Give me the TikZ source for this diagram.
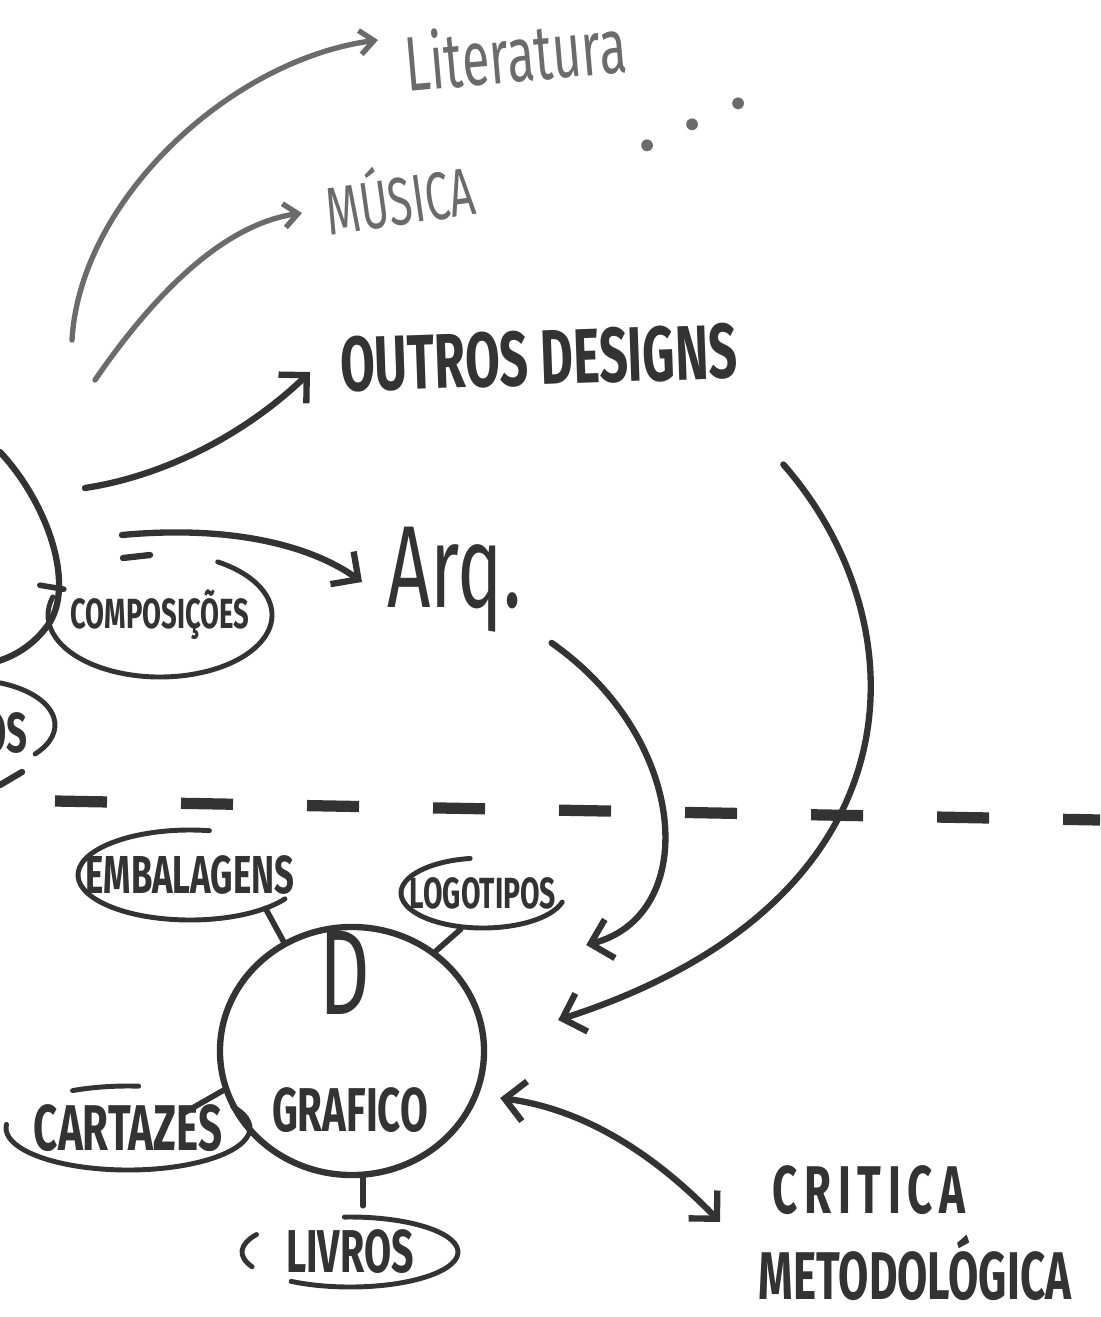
\documentclass[tikz,border=0pt]{standalone}
\usepackage{fontspec}
\setmainfont{Fira Sans}
\newfontfamily\hand[FakeStretch=0.65]{Fira Sans}
\usetikzlibrary{arrows.meta,shapes.geometric}

\definecolor{ink}{gray}{0.2}
\definecolor{pencil}{gray}{0.42}

\newcommand\hf[1]{\fontsize{#1}{#1}\selectfont}
% open hand drawn loop round a label: node, x radius, y radius, from, to
\newcommand\handloop[5]{%
  \draw[loopline] ([shift={(#4:#2 and #3)}]#1.center) arc[start angle=#4, end angle=#5, x radius=#2, y radius=#3];}

\tikzset{
  marker/.style={ink, line width=4.5pt, line cap=round, line join=round},
  pen/.style={pencil, line width=3.8pt, line cap=round, line join=round},
  loopline/.style={ink, line width=3.5pt, line cap=round},
  tick/.style={ink, line width=4pt, line cap=round},
  bigbarb/.style={-{Straight Barb[length=5mm,width=10mm]}},
  smallbarb/.style={-{Straight Barb[length=3.5mm,width=6mm]}},
  word/.style={ink, inner sep=0pt, font=\hand},
  tag/.style 2 args={word, ellipse, minimum width=#1, minimum height=#2},
}

\begin{document}
\begin{tikzpicture}[x=0.025cm, y=0.025cm]
    \useasboundingbox (0,0) rectangle (1100,-1317);
    \clip (0,0) rectangle (1100,-1317);

    %big circle, cut by the left edge
    \draw[marker] (0,-452) .. controls (45,-500) and (75,-580) .. (50,-622)
        .. controls (38,-640) and (20,-655) .. (-5,-662);
    \coordinate (litfoot) at (72,-340);
    \coordinate (musfoot) at (95,-380);
    \coordinate (desfoot) at (85,-488);
    \coordinate (arqfoot) at (122,-535);

    %targets
    \node[word, pencil, font=\hand\hf{55}, anchor=west, rotate=5] (lit) at (405,-62) {Literatura};
    \node[pencil, font=\hf{60}, rotate=25] (more) at (693,-125) {. . .};
    \node[word, pencil, font=\hand\hf{48}, anchor=west, rotate=8] (mus) at (325,-205) {MÚSICA};
    \node[word, font=\hand\bfseries\hf{55}, anchor=west, rotate=2] (outros) at (340,-365) {OUTROS DESIGNS};
    \node[word, font=\hand\hf{83}, anchor=west] (arq) at (387,-580) {Arq.};

    \draw[pen, smallbarb] (litfoot) .. controls (80,-200) and (230,-60) .. ([shift={(-27,22)}]lit.west);
    \draw[pen, smallbarb] (musfoot) .. controls (150,-300) and (220,-225) .. ([shift={(-23,-8)}]mus.west);
    \draw[marker, bigbarb] (desfoot) .. controls (170,-475) and (250,-430) .. ([shift={(-30,-7)}]outros.west);
    \draw[marker, bigbarb] (arqfoot) .. controls (230,-525) and (310,-545) .. ([shift={(-25,-2)}]arq.west);
    \draw[marker] (123,-558) -- (150,-555);

    %labels round the big circle
    \node[tag={5.6cm}{3.1cm}, font=\hand\bfseries\hf{30}] (comp) at (160,-615) {COMPOSIÇÕES};
    \handloop{comp}{112}{62}{59}{-197}
    \draw[tick] ([shift={(-9,0)}]comp.165) -- ++(24,-4);
    \node[tag={4.25cm}{2.25cm}] (os) at (-30,-725) {};
    \handloop{os}{85}{45}{70}{-40}
    \node[word, font=\hand\bfseries\hf{40}, anchor=east] (oslabel) at (28,-733) {OS};
    \draw[marker] (0,-785) -- (22,-772);

    %line between the two levels
    \draw[ink, line width=8pt, dash pattern=on 1.3cm off 1.85cm] (55,-801) -- (1100,-820);

    %graphic design
    \node[ellipse, draw=ink, line width=4.5pt, minimum width=6.6cm, minimum height=6.2cm] (dg) at (352,-1051) {};
    \node[word, font=\hand\hf{86}] (dletter) at (345,-973) {D};
    \node[word, font=\hand\bfseries\hf{44}] (graf) at (350,-1110) {GRAFICO};

    \node[tag={5.6cm}{2.25cm}, font=\hand\bfseries\hf{38}] (emb) at (190,-875) {EMBALAGENS};
    \handloop{emb}{112}{45}{80}{328}
    \node[tag={4.1cm}{1.75cm}, font=\hand\bfseries\hf{31}] (logo) at (483,-893) {LOGOTIPOS};
    \handloop{logo}{82}{35}{99}{345}
    \node[tag={6.1cm}{2.1cm}, font=\hand\bfseries\hf{46}] (cart) at (128,-1128) {CARTAZES};
    \handloop{cart}{122}{42}{31}{-185}
    \handloop{cart}{122}{42}{117}{85}
    \node[tag={5.4cm}{1.75cm}, font=\hand\bfseries\hf{43}] (livros) at (350,-1252) {LIVROS};
    \handloop{livros}{108}{35}{93}{-123}
    \handloop{livros}{108}{35}{150}{205}

    \draw[tick] (dg.122) -- ++(-18,33);
    \draw[tick] (dg.50) -- ++(25,22);
    \draw[tick] (dg.197) -- ++(-42,-24);
    \draw[tick] (dg.-85) -- ++(0,-28);

    %arrows into graphic design
    \draw[marker, bigbarb] ([shift={(30,-10)}]arq.south east) .. controls (690,-740) and (700,-915) .. ([shift={(99,106)}]dg.east);
    \draw[marker, bigbarb] ([shift={(45,-85)}]outros.south east) .. controls (920,-620) and (930,-900) .. ([shift={(71,31)}]dg.east);

    %critique
    \node[word, font=\hand\bfseries\hf{48}\addfontfeatures{LetterSpace=10}, anchor=west] (critica) at (772,-1190) {CRITICA};
    \node[word, font=\hand\bfseries\hf{48}] (metod) at (915,-1268) {METODOLÓGICA};
    \draw[marker, {Straight Barb[length=5mm,width=10mm]}-{Straight Barb[length=5mm,width=10mm]}]
        ([shift={(13,-47)}]dg.east) .. controls (590,-1110) and (660,-1160) .. ([shift={(-52,-32)}]critica.west);

\end{tikzpicture}
\end{document}
